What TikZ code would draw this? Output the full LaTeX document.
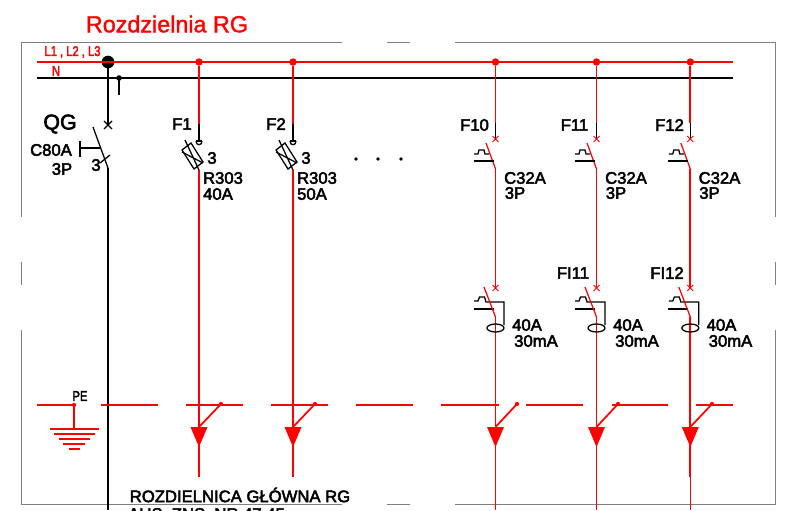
\documentclass[tikz,border=0pt]{standalone}
\usepackage{fontspec}
\setmainfont{Liberation Sans}
\newfontfamily\boldishfont[FakeBold=3]{Liberation Sans}
\newfontfamily\titlefont[FakeBold=1.5]{Liberation Sans}
\tikzset{
    redline/.style={draw=red, line width=1.5pt},
    blackline/.style={draw=black, line width=1.3pt},
    thinred/.style={draw=red, line width=1.3pt},
    thinblack/.style={draw=black, line width=0.95pt},
    frameline/.style={draw=black!50, line width=0.75pt},
    reddot/.style={circle, fill=red, inner sep=0pt, minimum size=5.6pt},
    smalldot/.style={circle, fill=red, inner sep=0pt, minimum size=3.2pt},
    blackdot/.style={circle, fill=black, inner sep=0pt, minimum size=#1},
    lbl/.style={font=\boldishfont\fontsize{12.5}{14}\selectfont, inner sep=0pt},
    lblbig/.style={font=\boldishfont\fontsize{16}{18}\selectfont, inner sep=0pt},
    narrow/.style={font=\boldishfont\fontsize{10.5}{12}\selectfont, inner sep=0pt, text=red, xscale=0.8, transform shape},
    breaker/.pic={
        \draw[thinred, line width=0.65pt] (-3,-3) -- (3,3) (-3,3) -- (3,-3);
        \draw[thinred, line width=0.9pt] (-9.5,4) -- (0,30);
        \draw[thinblack] (-21.5,15) -- (-17.5,15) -- (-16.5,11) -- (-11.5,11) -- (-10.5,15) -- (-6.5,15);
        \draw[thinblack] (-22,22) -- (-2,22);
    },
    residual/.pic={
        \draw[thinred, line width=0.65pt] (-3,-3) -- (3,3) (-3,3) -- (3,-3);
        \draw[thinblack] (-21.5,13) -- (-17.5,13) -- (-16,9) -- (-11,9) -- (-9.5,14) -- (8.5,14) -- (8.5,37);
        \draw[thinblack] (-22,21) -- (-2,21);
        \draw[thinred, line width=0.9pt] (-11.5,-1) -- (0,29);
        \draw[thinblack] (0,40) ellipse [x radius=8.5, y radius=4];
    },
    fusebox/.pic={
        \draw[thinblack] (-3,0) .. controls (-3,5) and (3,5) .. (3,0);
        \draw[thinblack] (-3,0) -- (3,0);
        \draw[thinblack] (-17,9) -- (-8,2) -- (4,21) -- (-5,28) -- cycle;
        \draw[thinblack] (-14,-1) -- (0,29);
        \draw[thinblack] (-17,11) -- (4,22);
    },
    dropmark/.pic={
        \fill[red] (-8.5,0) -- (8.5,0) -- (0,20) -- cycle;
    }
}
\begin{document}
\begin{tikzpicture}[x=0.75pt, y=-0.75pt]
    \useasboundingbox (0,0) rectangle (787,510);
    \clip (0,0) rectangle (787,510);

    % Define nodes for the frame
    \coordinate (TL) at (21,43);
    \coordinate (TR) at (775,43);
    \coordinate (BL) at (21,504);
    \coordinate (BR) at (775,504);
    \coordinate (T1) at (342,43);
    \coordinate (T2) at (387,43);
    \coordinate (T3) at (410,43);
    \coordinate (T4) at (455,43);
    \coordinate (B1) at (342,504);
    \coordinate (B2) at (387,504);
    \coordinate (B3) at (410,504);
    \coordinate (B4) at (455,504);
    \coordinate (L1) at (21,217);
    \coordinate (L2) at (21,262);
    \coordinate (L3) at (21,285);
    \coordinate (L4) at (21,330);
    \coordinate (R1) at (775,217);
    \coordinate (R2) at (775,262);
    \coordinate (R3) at (775,285);
    \coordinate (R4) at (775,330);

    % Draw frame
    \draw[frameline] (L1) -- (TL) -- (T1);
    \draw[frameline] (T2) -- (T3);
    \draw[frameline] (T4) -- (TR) -- (R1);
    \draw[frameline] (R2) -- (R3);
    \draw[frameline] (R4) -- (BR) -- (B4);
    \draw[frameline] (B3) -- (B2);
    \draw[frameline] (B1) -- (BL) -- (L4);
    \draw[frameline] (L3) -- (L2);

    % Define nodes for the busbars
    \coordinate (LA) at (37,62);
    \coordinate (LB) at (733,62);
    \coordinate (NA) at (37,78);
    \coordinate (NB) at (733,78);
    \node[reddot] (J1) at (199,62) {};
    \node[reddot] (J2) at (293,62) {};
    \node[reddot] (J10) at (495.5,62) {};
    \node[reddot] (J11) at (596.5,62) {};
    \node[reddot] (J12) at (690.3,62) {};
    \node[blackdot=9.5pt] (JQ) at (108,62) {};
    \node[blackdot=4.2pt] (JN) at (119,78) {};
    \coordinate (JNend) at (119,95);

    % Draw busbars
    \draw[redline] (LA) -- (LB);
    \draw[blackline] (NA) -- (NB);
    \draw[blackline] (JN.center) -- (JNend);

    % Main switch
    \coordinate (QGx) at (108,125);
    \coordinate (QGa) at (93,127);
    \coordinate (QGb) at (108,168);
    \coordinate (QGc) at (108,510);
    \coordinate (QGh) at (100,148);
    \coordinate (QGh1) at (80,148);
    \coordinate (QGv1) at (80,141);
    \coordinate (QGv2) at (80,157);
    \coordinate (QGs1) at (100,163);
    \coordinate (QGs2) at (110,155);
    \draw[blackline] (JQ.center) -- (QGx);
    \draw[thinblack] ([shift={(-4,-4)}]QGx) -- ([shift={(4,4)}]QGx);
    \draw[thinblack] ([shift={(-4,4)}]QGx) -- ([shift={(4,-4)}]QGx);
    \draw[thinblack] (QGa) -- (QGb);
    \draw[blackline] (QGb) -- (QGc);
    \draw[thinblack] (QGh) -- (QGh1);
    \draw[thinblack] (QGv1) -- (QGv2);
    \draw[thinblack] (QGs1) -- (QGs2);

    % Define nodes for the outgoing feeders
    \coordinate (F1t) at (199,124);
    \coordinate (F1x) at (199,141);
    \coordinate (F1b) at (199,170);
    \coordinate (F1d) at (199,427);
    \coordinate (F1e) at (199,477);
    \coordinate (F2t) at (293,124);
    \coordinate (F2x) at (293,141);
    \coordinate (F2b) at (293,170);
    \coordinate (F2d) at (293,427);
    \coordinate (F2e) at (293,477);
    \coordinate (F10t) at (495.5,123);
    \coordinate (F10x) at (495.5,139);
    \coordinate (F10b) at (495.5,169);
    \coordinate (F10r) at (495.5,288);
    \coordinate (F10q) at (495.5,317);
    \coordinate (F10d) at (495.5,427);
    \coordinate (F10e) at (495.5,477);
    \coordinate (F10z) at (495.5,510);
    \coordinate (F11t) at (596.5,123);
    \coordinate (F11x) at (596.5,139);
    \coordinate (F11b) at (596.5,169);
    \coordinate (F11r) at (596.5,288);
    \coordinate (F11q) at (596.5,317);
    \coordinate (F11d) at (596.5,427);
    \coordinate (F11e) at (596.5,477);
    \coordinate (F11z) at (596.5,510);
    \coordinate (F12t) at (690.3,123);
    \coordinate (F12x) at (690.3,139);
    \coordinate (F12b) at (690.3,169);
    \coordinate (F12r) at (690.3,288);
    \coordinate (F12q) at (690.3,317);
    \coordinate (F12d) at (690.3,427);
    \coordinate (F12e) at (690.3,477);
    \coordinate (F12z) at (690.3,510);

    % Draw feeders
    \draw[thinred] (J1) -- (F1t);
    \draw[thinblack, line width=1.1pt] (F1t) -- (F1x);
    \draw[thinred] (F1b) -- (F1e);
    \draw[thinred] (J2) -- (F2t);
    \draw[thinblack, line width=1.1pt] (F2t) -- (F2x);
    \draw[thinred] (F2b) -- (F2e);
    \draw[thinred] (J10) -- (F10t);
    \draw[thinblack, line width=1.1pt] (F10t) -- (F10x);
    \draw[thinred] (F10b) -- (F10r);
    \draw[thinred] (F10q) -- (F10e);
    \draw[thinred, line width=0.5pt] (F10e) -- (F10z);
    \draw[thinred] (J11) -- (F11t);
    \draw[thinblack, line width=1.1pt] (F11t) -- (F11x);
    \draw[thinred] (F11b) -- (F11r);
    \draw[thinred] (F11q) -- (F11e);
    \draw[thinred, line width=0.5pt] (F11e) -- (F11z);
    \draw[thinred] (J12) -- (F12t);
    \draw[thinblack, line width=1.1pt] (F12t) -- (F12x);
    \draw[thinred] (F12b) -- (F12r);
    \draw[thinred] (F12q) -- (F12e);
    \draw[thinred, line width=0.5pt] (F12e) -- (F12z);

    % Protection devices
    \pic (fuse1) at (F1x) {fusebox};
    \pic (fuse2) at (F2x) {fusebox};
    \pic (mcb10) at (F10x) {breaker};
    \pic (mcb11) at (F11x) {breaker};
    \pic (mcb12) at (F12x) {breaker};
    \pic (rcd10) at (F10r) {residual};
    \pic (rcd11) at (F11r) {residual};
    \pic (rcd12) at (F12r) {residual};

    % Define nodes for the PE bar
    \node[smalldot] (PE0) at (74,405) {};
    \node[smalldot] (P1) at (221,404) {};
    \node[smalldot] (P2) at (315,404) {};
    \node[smalldot] (P10) at (517,404) {};
    \node[smalldot] (P11) at (618,404) {};
    \node[smalldot] (P12) at (712,404) {};
    \coordinate (Sa) at (37,405);
    \coordinate (Sb) at (101,405);
    \coordinate (Sc) at (158,405);
    \coordinate (Sd) at (186,405);
    \coordinate (Se) at (243,405);
    \coordinate (Sf) at (271,405);
    \coordinate (Sg) at (328,405);
    \coordinate (Sh) at (356,405);
    \coordinate (Si) at (413,405);
    \coordinate (Sj) at (441,405);
    \coordinate (Sk) at (499,405);
    \coordinate (Sl) at (526,405);
    \coordinate (Sm) at (583,405);
    \coordinate (Sn) at (612,405);
    \coordinate (So) at (668,405);
    \coordinate (Sp) at (696,405);
    \coordinate (Sq) at (733,405);

    % Draw PE bar
    \draw[thinred] (Sa) -- (PE0.center);
    \draw[thinred] (Sb) -- (Sc);
    \draw[thinred] (Sd) -- (Se);
    \draw[thinred] (Sf) -- (Sg);
    \draw[thinred] (Sh) -- (Si);
    \draw[thinred] (Sj) -- (Sk);
    \draw[thinred] (Sl) -- (Sm);
    \draw[thinred] (Sn) -- (So);
    \draw[thinred] (Sp) -- (Sq);
    \draw[thinred] (P1.center) -- (F1d);
    \draw[thinred] (P2.center) -- (F2d);
    \draw[thinred] (P10.center) -- (F10d);
    \draw[thinred] (P11.center) -- (F11d);
    \draw[thinred] (P12.center) -- (F12d);
    \pic (drop1) at (F1d) {dropmark};
    \pic (drop2) at (F2d) {dropmark};
    \pic (drop10) at (F10d) {dropmark};
    \pic (drop11) at (F11d) {dropmark};
    \pic (drop12) at (F12d) {dropmark};

    % Earth symbol
    \coordinate (E0) at (74,429);
    \coordinate (E1a) at (50,429);
    \coordinate (E1b) at (99,429);
    \coordinate (E2a) at (54,434);
    \coordinate (E2b) at (95,434);
    \coordinate (E3a) at (59,439);
    \coordinate (E3b) at (90,439);
    \coordinate (E4a) at (63,444);
    \coordinate (E4b) at (85,444);
    \coordinate (E5a) at (69,449);
    \coordinate (E5b) at (80,449);
    \draw[thinred] (PE0.center) -- (E0);
    \draw[thinred] (E1a) -- (E1b);
    \draw[thinred] (E2a) -- (E2b);
    \draw[thinred] (E3a) -- (E3b);
    \draw[thinred] (E4a) -- (E4b);
    \draw[thinred] (E5a) -- (E5b);

    % Three dots between the feeders
    \node[blackdot=2.8pt] (D1) at (356,159) {};
    \node[blackdot=2.8pt] (D2) at (378,159) {};
    \node[blackdot=2.8pt] (D3) at (401,159) {};

    % Labels
    \node[font=\titlefont\fontsize{17.5}{20}\selectfont, text=red, inner sep=0pt] (title) at (167,24) {Rozdzielnia RG};
    \node[narrow] (lL) at (72.5,52) {L1 , L2 , L3};
    \node[narrow] (lN) at (56,71) {N};
    \node[lblbig] (lQG) at (60,124) {QG};
    \node[lbl] (lC80) at (51,150) {C80A};
    \node[lbl] (l3P) at (62,169) {3P};
    \node[lbl] (l3Q) at (96,165) {3};
    \node[lbl] (lF1) at (182,124) {F1};
    \node[lbl] (l31) at (212,158) {3};
    \node[lbl] (lR1) at (223,178) {R303};
    \node[lbl] (lA1) at (218,194) {40A};
    \node[lbl] (lF2) at (276,124) {F2};
    \node[lbl] (l32) at (306,158) {3};
    \node[lbl] (lR2) at (317,178) {R303};
    \node[lbl] (lA2) at (312,194) {50A};
    \node[lbl] (lF10) at (474.5,125) {F10};
    \node[lbl] (lF11) at (574.5,125) {F11};
    \node[lbl] (lF12) at (669.5,125) {F12};
    \node[lbl] (lC10) at (525,178) {C32A};
    \node[lbl] (lP10) at (515,193) {3P};
    \node[lbl] (lC11) at (626,178) {C32A};
    \node[lbl] (lP11) at (616,193) {3P};
    \node[lbl] (lC12) at (719.5,178) {C32A};
    \node[lbl] (lP12) at (709.5,193) {3P};
    \node[lbl] (lFI11) at (573,273) {FI11};
    \node[lbl] (lFI12) at (667,273) {FI12};
    \node[lbl] (lI10) at (527,325) {40A};
    \node[lbl] (lm10) at (536,341) {30mA};
    \node[lbl] (lI11) at (628,325) {40A};
    \node[lbl] (lm11) at (637,341) {30mA};
    \node[lbl] (lI12) at (721.5,325) {40A};
    \node[lbl] (lm12) at (730.5,341) {30mA};
    \node[narrow, text=black] (lPE) at (80,396) {PE};
    \node[lbl] (ltitle) at (240,495) {ROZDIELNICA GŁÓWNA RG};
    \node[lbl, anchor=west] (lsub) at (128,514) {AUS. ZNS. NR 47.45};
\end{tikzpicture}
\end{document}
